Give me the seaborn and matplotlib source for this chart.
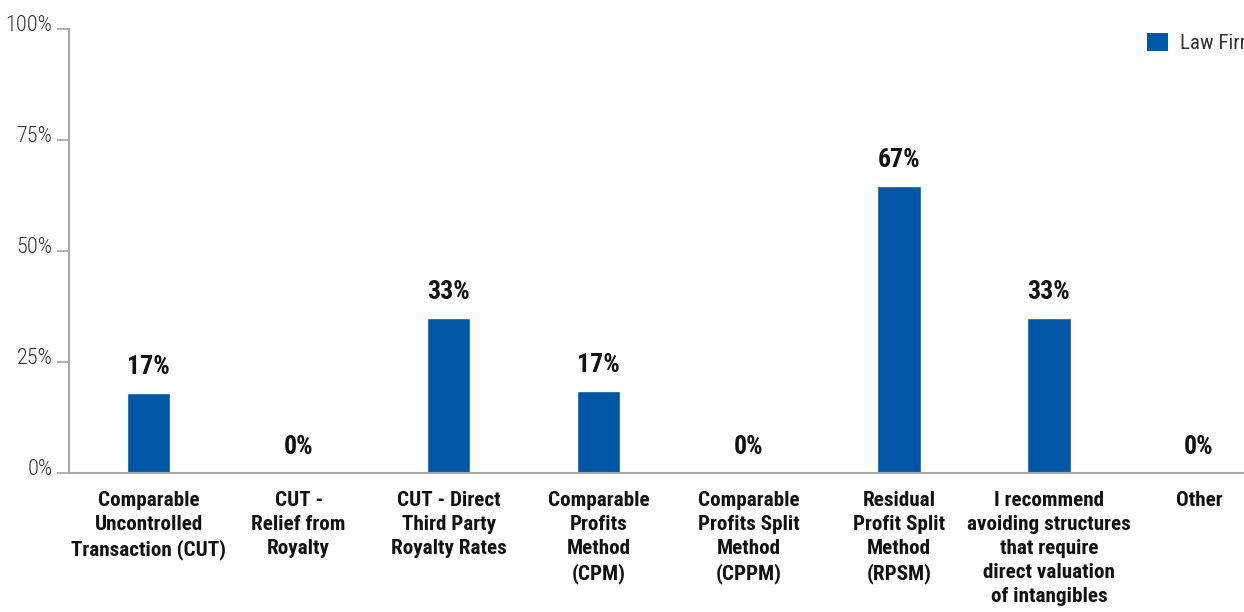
import matplotlib
matplotlib.use("Agg")
import matplotlib.pyplot as plt
import matplotlib.transforms as mtransforms
from matplotlib import font_manager
from matplotlib.patches import Patch
import seaborn as sns
import pandas as pd

# ------------------------------
# Data
# ------------------------------
methods = [
    "Comparable\nUncontrolled\nTransaction (CUT)",
    "CUT -\nRelief from\nRoyalty",
    "CUT - Direct\nThird Party\nRoyalty Rates",
    "Comparable\nProfits\nMethod\n(CPM)",
    "Comparable\nProfits Split\nMethod\n(CPPM)",
    "Residual\nProfit Split\nMethod\n(RPSM)",
    "I recommend\navoiding structures\nthat require\ndirect valuation\nof intangibles",
    "Other",
]
# bar heights as drawn in the picture (%), labels as printed
bar_heights = [18.0, 0, 34.9, 18.5, 0, 64.6, 34.9, 0]
value_labels = ["17%", "0%", "33%", "17%", "0%", "67%", "33%", "0%"]
series_name = "Law Firm"
y_ticks = [0, 25, 50, 75, 100]
y_tick_labels = ["0%", "25%", "50%", "75%", "100%"]

BLUE = "#0057a6"
GREY = "#a9a9a9"

# ------------------------------
# Fonts (prefer a narrow face)
# ------------------------------
installed = {f.name for f in font_manager.fontManager.ttflist}
narrow = "DejaVu Sans"
for cand in ["Roboto Condensed", "Liberation Sans Narrow", "Noto Sans"]:
    if cand in installed:
        narrow = cand
        break

sns.set_theme(style="white")
plt.rcParams["font.family"] = [narrow, "DejaVu Sans"]

df = pd.DataFrame({"method": methods, "share": bar_heights})

fig = plt.figure(figsize=(12.44, 6.12), dpi=100)
# axes extends a bit past the right edge, like the source image
ax = fig.add_axes([69 / 1244, 1 - 473 / 612, 1205 / 1244, 444 / 612])

sns.barplot(data=df, x="method", y="share", color=BLUE, width=0.29,
            saturation=1, ax=ax)

ax.set_xlim(-0.53, 7.5)
ax.set_ylim(0, 100)
ax.set_xlabel("")
ax.set_ylabel("")

for s in ["top", "right"]:
    ax.spines[s].set_visible(False)
for s in ["left", "bottom"]:
    ax.spines[s].set_color(GREY)
    ax.spines[s].set_linewidth(1.5)

ax.set_yticks(y_ticks)
ax.set_yticklabels(y_tick_labels, fontsize=16, color="#333333",
                   fontweight="light")
ax.tick_params(axis="y", length=9, width=1.3, color=GREY, pad=3, left=True)
offset = mtransforms.ScaledTranslation(0, 6 / 100, fig.dpi_scale_trans)
for lab in ax.get_yticklabels():
    lab.set_transform(lab.get_transform() + offset)

ax.tick_params(axis="x", length=0, pad=13)
ax.set_xticks(range(len(methods)))
ax.set_xticklabels(methods, fontsize=15.2, fontweight="bold", color="#111111",
                   linespacing=1.33, va="top")

for i, (h, lab) in enumerate(zip(bar_heights, value_labels)):
    ax.annotate(lab, (i, h), xytext=(0, 10), textcoords="offset points",
                ha="center", va="bottom", fontsize=18.5, fontweight="bold",
                color="#111111")

handle = Patch(facecolor=BLUE, edgecolor="none")
ax.legend([handle], [series_name], loc="upper left",
          bbox_to_anchor=(1128 / 1244, 1 - 14 / 612),
          bbox_transform=fig.transFigure, frameon=False, fontsize=15,
          handlelength=1.0, handleheight=1.0, handletextpad=0.6,
          labelcolor="#333333")

fig.savefig("out.png", dpi=100)
